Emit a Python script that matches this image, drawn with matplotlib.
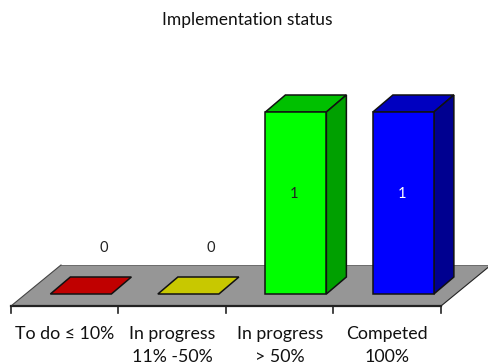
import matplotlib
matplotlib.use("Agg")
import matplotlib.pyplot as plt
from matplotlib.patches import Polygon

title = "Implementation status"
categories = ["To do ≤ 10%", "In progress\n11% -50%", "In progress\n> 50%", "Competed\n100%"]
values = [0, 0, 1, 1]
front_colors = ["#c00000", "#c8c800", "#00ff00", "#0000ff"]
top_colors = ["#c00000", "#c8c800", "#00c000", "#0000c0"]
side_colors = ["#900000", "#969600", "#00a000", "#000090"]
label_colors = ["#222222", "#222222", "#222222", "#ffffff"]

W, H = 488, 364
plt.rcParams["font.family"] = ["Lato", "DejaVu Sans"]
fig = plt.figure(figsize=(W / 100, H / 100), dpi=100)
ax = fig.add_axes([0, 0, 1, 1])

# One category slot spans 107.5 px, one value unit spans 182 px
ax.set_xlim(-11 / 107.5, 477 / 107.5)
ax.set_ylim(-70 / 182, 294 / 182)
ax.axis("off")

ux, uy = 107.5, 182
floor_front = -12 / uy
floor_dx, floor_dy = 50 / ux, 41 / uy
bar_dx, bar_dy = 20 / ux, 17 / uy
bar_width = 61 / ux
bar_offset = 0.65
n = len(values)

def poly(points, color, z):
    ax.add_patch(Polygon(points, closed=True, facecolor=color, edgecolor="#111111",
                         linewidth=1.1, joinstyle="miter", zorder=z, clip_on=True))

# Floor of the 3D plot, with its darker front edge and tick marks
ax.add_patch(Polygon([(0, floor_front), (n, floor_front),
                      (n + floor_dx, floor_front + floor_dy), (floor_dx, floor_front + floor_dy)],
                     closed=True, facecolor="#969696", edgecolor="none", zorder=1))
ax.plot([floor_dx, n + floor_dx], [floor_front + floor_dy] * 2, color="#666666", lw=0.6, zorder=1.1)
ax.plot([0, n], [floor_front, floor_front], color="#222222", lw=1.6, zorder=2)
ax.plot([n, n + floor_dx], [floor_front, floor_front + floor_dy], color="#222222", lw=0.8, zorder=2)
ax.plot([0, floor_dx], [floor_front, floor_front + floor_dy], color="#444444", lw=0.8, zorder=2)
for i in range(n + 1):
    ax.plot([i, i], [floor_front, floor_front - 7 / uy], color="#222222", lw=1.2, zorder=2)

# Bars: front, top and side faces
for i, v in enumerate(values):
    x0 = i + bar_offset - bar_width / 2
    x1 = x0 + bar_width
    poly([(x0, v), (x1, v), (x1 + bar_dx, v + bar_dy), (x0 + bar_dx, v + bar_dy)], top_colors[i], 3)
    if v > 0:
        poly([(x1, 0), (x1 + bar_dx, bar_dy), (x1 + bar_dx, v + bar_dy), (x1, v)], side_colors[i], 3)
        poly([(x0, 0), (x1, 0), (x1, v), (x0, v)], front_colors[i], 4)

# Value labels sit above zero-height bars and mid-height inside tall ones
for i, v in enumerate(values):
    cx = i + bar_offset - (0.015 if v else -0.21)
    cy = v * 0.55 if v else 46 / uy
    ax.text(cx, cy, str(v), ha="center", va="center", fontsize=10.5,
            color=label_colors[i], zorder=5)

# Category labels below the floor
for i, label in enumerate(categories):
    ax.text(i + 0.5, -32 / uy, label, ha="center", va="top", fontsize=12.8,
            color="#111111", linespacing=1.55, zorder=5)

ax.text(236 / ux, 274 / uy, title, ha="center", va="center", fontsize=12.5, color="#111111")

fig.savefig("out.png", dpi=100)
